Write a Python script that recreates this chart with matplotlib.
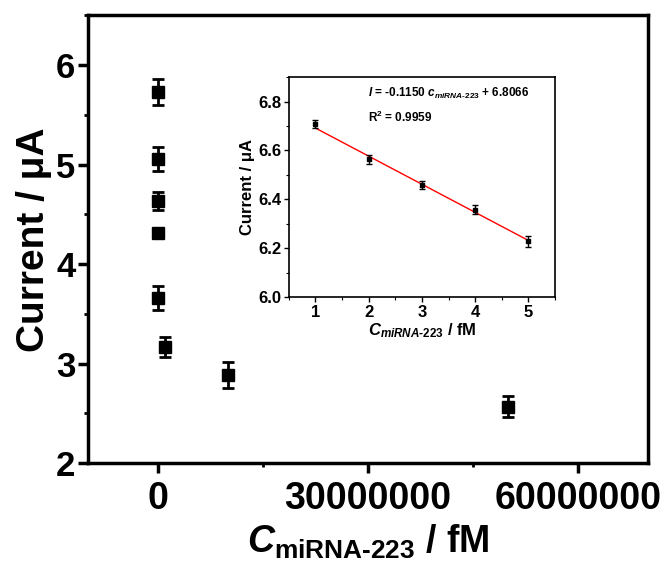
import matplotlib
matplotlib.use("Agg")
import matplotlib.pyplot as plt
from matplotlib.ticker import MultipleLocator

plt.rcParams["font.family"] = ["Liberation Sans", "DejaVu Sans"]
plt.rcParams["font.weight"] = "bold"
plt.rcParams["mathtext.fontset"] = "custom"
plt.rcParams["mathtext.rm"] = "Liberation Sans:bold"
plt.rcParams["mathtext.bf"] = "Liberation Sans:bold"
plt.rcParams["mathtext.it"] = "Liberation Sans:italic:bold"

# main plot data (concentration in fM, current in uA)
conc = [1, 10, 100, 1000, 10000, 1000000, 10000000, 50000000]
current = [5.73, 5.06, 4.63, 4.31, 3.66, 3.17, 2.89, 2.57]
current_err = [0.13, 0.12, 0.09, 0.04, 0.125, 0.10, 0.13, 0.11]

# inset data (linear range)
conc_lin = [1, 2, 3, 4, 5]
current_lin = [6.708, 6.564, 6.458, 6.358, 6.228]
current_lin_err = [0.017, 0.019, 0.017, 0.017, 0.021]
slope = -0.1150
intercept = 6.8066

fig = plt.figure(figsize=(6.64, 5.67), dpi=100)
ax = fig.add_axes([0.1325, 0.183, 0.843, 0.790])

ax.errorbar(conc, current, yerr=current_err, fmt="s", color="black",
            markersize=8, elinewidth=2, capsize=4.5, capthick=2)

ax.set_xlim(-10000000, 70000000)
ax.set_ylim(2, 6.5)
ax.xaxis.set_major_locator(MultipleLocator(30000000))
ax.xaxis.set_minor_locator(MultipleLocator(15000000))
ax.yaxis.set_major_locator(MultipleLocator(1))
ax.yaxis.set_minor_locator(MultipleLocator(0.5))
ax.ticklabel_format(axis="x", style="plain", useOffset=False)
ax.tick_params(which="major", direction="out", length=7, width=2.5,
               labelsize=25)
ax.tick_params(axis="y", which="major", pad=2)
ax.tick_params(axis="x", which="major", labelsize=27, pad=6)
ax.tick_params(which="minor", direction="out", length=3, width=2)
for s in ax.spines.values():
    s.set_linewidth(2.5)

ax.set_ylabel("Current / μA", fontsize=28, fontweight="bold", labelpad=3)
ax.set_xlabel(r"$\mathit{C}_{\mathrm{miRNA\text{-}223}}$ / fM",
              fontsize=27, fontweight="bold", labelpad=4)

# inset
axin = fig.add_axes([0.435, 0.476, 0.401, 0.388])
xs = [conc_lin[0], conc_lin[-1]]
axin.plot(xs, [slope * x + intercept for x in xs], color="red", lw=1)
axin.errorbar(conc_lin, current_lin, yerr=current_lin_err, fmt="s",
              color="black", markersize=3.5, elinewidth=1, capsize=2.5,
              capthick=1)
axin.set_xlim(0.5, 5.5)
axin.set_ylim(6.0, 6.9)
axin.xaxis.set_major_locator(MultipleLocator(1))
axin.xaxis.set_minor_locator(MultipleLocator(0.5))
axin.yaxis.set_major_locator(MultipleLocator(0.2))
axin.yaxis.set_minor_locator(MultipleLocator(0.1))
axin.tick_params(which="major", direction="out", length=3.5, width=1,
                 labelsize=12, pad=2)
axin.tick_params(which="minor", direction="out", length=2, width=0.8)
for s in axin.spines.values():
    s.set_linewidth(1.2)
axin.set_ylabel("Current / μA", fontsize=12, fontweight="bold", labelpad=2)
axin.set_xlabel(r"$\mathit{C}_{\mathit{miRNA\text{-}223}}$ / fM",
                fontsize=12, fontweight="bold", labelpad=1)

axin.text(0.297, 0.925,
          r"$\mathit{I}$ = -0.1150 $\mathit{c}_{\mathit{miRNA\text{-}223}}$ + 6.8066",
          transform=axin.transAxes, fontsize=8.5, fontweight="bold",
          va="center", ha="left")
axin.text(0.297, 0.815, r"R$^{2}$ = 0.9959", transform=axin.transAxes,
          fontsize=8.5, fontweight="bold", va="center", ha="left")

fig.savefig("out.png", dpi=100)
